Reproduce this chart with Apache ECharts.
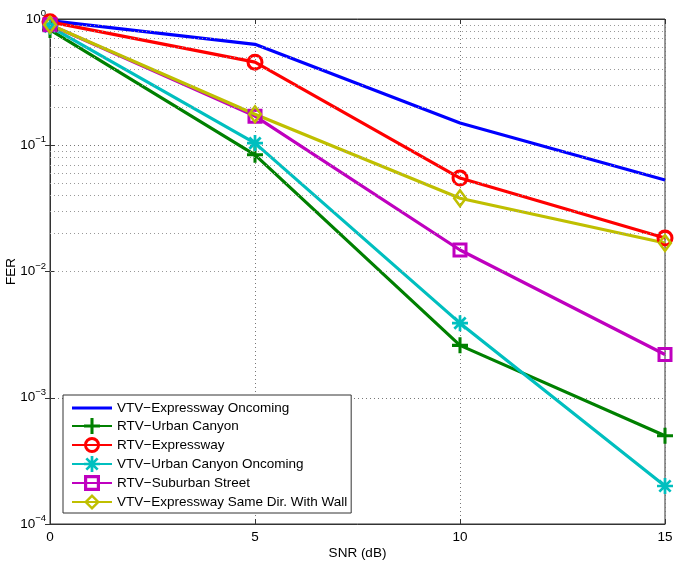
<!DOCTYPE html>
<html><head><meta charset="utf-8">
<script src="https://cdn.jsdelivr.net/npm/echarts@6/dist/echarts.min.js"></script>
<style>html,body{margin:0;padding:0;background:#fff}#c{width:685px;height:563px}</style>
</head><body><div id="c"></div>
<script>
const snr = [0, 5, 10, 15];
const vtvExpOncoming = [0.97, 0.63, 0.15, 0.053];
const rtvUrbanCanyon = [0.82, 0.084, 0.0026, 0.0005];
const rtvExpressway = [0.95, 0.455, 0.055, 0.0184];
const vtvUrbanOncoming = [0.87, 0.104, 0.0039, 0.0002];
const rtvSuburban = [0.9, 0.17, 0.0148, 0.0022];
const vtvExpWall = [0.9, 0.176, 0.038, 0.0168];
const xTicks = [0, 5, 10, 15];
const names = ['VTV\u2212Expressway Oncoming','RTV\u2212Urban Canyon','RTV\u2212Expressway','VTV\u2212Urban Canyon Oncoming','RTV\u2212Suburban Street','VTV\u2212Expressway Same Dir. With Wall'];

function star(){
  let p = '';
  for (let i=0;i<4;i++){
    const a = i*Math.PI/4, c=Math.cos(a), s=Math.sin(a), w=0.17;
    const pts=[[-1,-w],[1,-w],[1,w],[-1,w]].map(([x,y])=>[(x*c-y*s).toFixed(3),(x*s+y*c).toFixed(3)]);
    p += 'M'+pts.map(q=>q.join(',')).join('L')+'Z';
  }
  return 'path://'+p;
}
const plusPath = 'path://M-0.19,-1L0.19,-1L0.19,-0.19L1,-0.19L1,0.19L0.19,0.19L0.19,1L-0.19,1L-0.19,0.19L-1,0.19L-1,-0.19L-0.19,-0.19Z';
const ringPath = 'path://M-1,0A1,1 0 1,0 1,0A1,1 0 1,0 -1,0ZM-0.64,0A0.64,0.64 0 1,1 0.64,0A0.64,0.64 0 1,1 -0.64,0Z';
const sqPath = 'path://M-1,-1H1V1H-1ZM-0.6,-0.6V0.6H0.6V-0.6Z';
const diaPath = 'path://M0,-1.35L1,0L0,1.35L-1,0ZM0,-0.78L-0.58,0L0,0.78L0.58,0Z';

function mk(name, data, color, symbol, size){
  return {
    name, type:'line', data: snr.map((x,i)=>[x,data[i]]),
    symbol, symbolSize:size, showSymbol: symbol!=='none', symbolKeepAspect:true,
    lineStyle:{color, width:3.2},
    itemStyle:{color, borderWidth:0},
    emphasis:{disabled:true}, animation:false
  };
}
const minor = [];
for (let d=-4; d<0; d++) for (let k=2;k<=9;k++) minor.push({yAxis: k*Math.pow(10,d)});

const fmtY = v => { const e = Math.round(Math.log10(v)); return '{b|10}{e|' + (e<0?'\u2212'+(-e):e) + '}'; };
const richY = {b:{fontSize:13.5,color:'#000',fontFamily:'Liberation Sans'}, e:{fontSize:9.5,color:'#000',fontFamily:'Liberation Sans',padding:[0,0,11,0]}};

const chart = echarts.init(document.getElementById('c'));
chart.setOption({
  animation:false,
  textStyle:{fontFamily:'Liberation Sans'},
  grid:{left:50,right:20,top:19,bottom:39,show:true,borderColor:'#333',borderWidth:1,outerBoundsMode:'none',containLabel:false},
  xAxis:[{type:'value',min:0,max:15,interval:5,name:'SNR (dB)',nameLocation:'middle',nameGap:22,nameMoveOverlap:false,
    nameTextStyle:{fontSize:13.5,color:'#000'},
    axisLine:{lineStyle:{color:'#333'}},axisTick:{inside:true,length:5,lineStyle:{color:'#333'}},
    axisLabel:{fontSize:13.5,color:'#000',margin:6},
    splitLine:{show:true,lineStyle:{type:[1,3],color:'#777'}}},
   {type:'value',min:0,max:15,interval:5,position:'top',axisLine:{lineStyle:{color:'#333'}},axisTick:{inside:true,length:5,lineStyle:{color:'#333'}},axisLabel:{show:false},splitLine:{show:false}}],
  yAxis:[{type:'log',logBase:10,min:1e-4,max:1,name:'FER',nameLocation:'middle',nameGap:32,nameMoveOverlap:false,
    nameTextStyle:{fontSize:13.5,color:'#000'},
    axisLine:{lineStyle:{color:'#333'}},axisTick:{inside:true,length:5,lineStyle:{color:'#333'}},
    axisLabel:{formatter:fmtY,rich:richY,margin:4},
    splitLine:{show:true,lineStyle:{type:[1,3],color:'#777'}}},
   {type:'log',logBase:10,min:1e-4,max:1,position:'right',axisLine:{lineStyle:{color:'#333'}},axisTick:{inside:true,length:5,lineStyle:{color:'#333'}},axisLabel:{show:false},splitLine:{show:false}}],
  legend:{left:63,top:395,orient:'vertical',itemWidth:40,itemHeight:20,itemGap:3,
    backgroundColor:'#fff',borderColor:'#333',borderWidth:1,padding:[6,4,3,8],
    textStyle:{fontSize:13.5,color:'#000',fontFamily:'Liberation Sans'},
    data:[{name:names[0],icon:'path://M0,0H40V3.2H0Z'}].concat(names.slice(1))},
  series:[
    {type:'line',data:[],silent:true,markLine:{silent:true,symbol:'none',label:{show:false},
      lineStyle:{type:[1,3],color:'#999',width:1},data:minor,animation:false}},
    mk(names[0],vtvExpOncoming,'#0000ff','none',0),
    mk(names[1],rtvUrbanCanyon,'#008000',plusPath,16),
    mk(names[2],rtvExpressway,'#ff0000',ringPath,17),
    mk(names[3],vtvUrbanOncoming,'#00bfbf',star(),16),
    mk(names[4],rtvSuburban,'#bf00bf',sqPath,15),
    mk(names[5],vtvExpWall,'#bfbf00',diaPath,20)
  ]
});
</script></body></html>
